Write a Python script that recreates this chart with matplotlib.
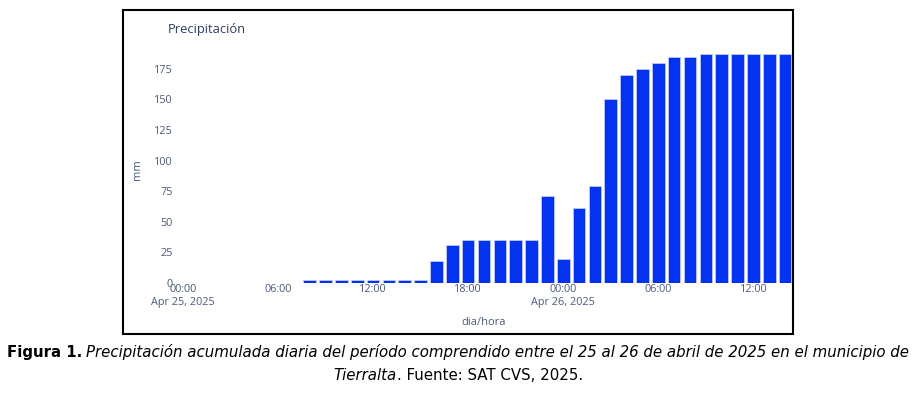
import matplotlib
matplotlib.use("Agg")
import matplotlib.pyplot as plt
import matplotlib.dates as mdates
from matplotlib.patches import Rectangle
import pandas as pd

# hourly accumulated precipitation, 25-26 Apr 2025
horas = pd.date_range("2025-04-25 00:00", "2025-04-26 14:00", freq="h")
precip_mm = [
    0, 0, 0, 0, 0, 0, 0, 0,                      # 00-07 Apr 25
    2.5, 2.5, 2.5, 2.5, 2.5, 2.5, 2.5, 2.5,      # 08-15
    18, 31, 35.5, 35.5, 35.5, 35.5, 35.5, 71,    # 16-23
    20, 61, 79, 150, 170, 175, 180, 185,         # 00-07 Apr 26
    185, 187, 187, 187, 187, 187, 187,           # 08-14
]
y_ticks = [0, 25, 50, 75, 100, 125, 150, 175]

TXT = "#4a5a78"

fig = plt.figure(figsize=(9.16, 3.93), dpi=100)
W, H = 916, 393
ax = fig.add_axes([175 / W, 1 - 283 / H, (793 - 175) / W, (283 - 42) / H])

ax.bar(horas, precip_mm, width=0.8 / 24, color="#0433f0",
       edgecolor="#c8d2ff", linewidth=0.5)

ax.set_xlim(mdates.date2num(horas[0] - pd.Timedelta(minutes=30)),
            mdates.date2num(horas[-1] + pd.Timedelta(minutes=30)))
ax.set_ylim(0, 197)
ax.set_yticks(y_ticks)


def fmt_hora(x, pos):
    d = mdates.num2date(x)
    if d.hour == 0:
        return d.strftime("%H:%M\n%b %d, %Y")
    return d.strftime("%H:%M")


ax.xaxis.set_major_locator(mdates.HourLocator(byhour=[0, 6, 12, 18]))
ax.xaxis.set_major_formatter(plt.FuncFormatter(fmt_hora))
ax.tick_params(axis="both", length=0, labelsize=7.8, labelcolor=TXT,
               labelfontfamily="Open Sans")
ax.tick_params(axis="x", pad=1)
ax.tick_params(axis="y", pad=1.5)
for s in ax.spines.values():
    s.set_visible(False)

ax.set_xlabel("dia/hora", fontsize=8, color=TXT, family="Open Sans")
ax.xaxis.set_label_coords(0.5, -0.14)
ax.set_ylabel("mm", fontsize=8, color=TXT, family="Open Sans")
ax.yaxis.set_label_coords(-0.052, 0.47)

fig.text(168 / W, 1 - 29 / H, "Precipitación", fontsize=9.3, color="#2a3f5f",
         family="Open Sans", va="center", ha="left")

# black frame around the chart
fig.patches.append(Rectangle((123 / W, 1 - 334 / H), (793 - 123) / W, (334 - 10) / H,
                             transform=fig.transFigure, fill=False,
                             edgecolor="black", linewidth=1.5, zorder=10))


# caption with mixed styles, centred line by line
def caption_line(pieces, y, size, fit=None):
    r = fig.canvas.get_renderer()
    txts = [fig.text(0, y, s, fontsize=size, va="center", ha="left",
                     family="DejaVu Sans", **kw) for s, kw, g in pieces]
    widths = [t.get_window_extent(r).width for t in txts]
    gaps = [g * size for s, kw, g in pieces]
    if fit:
        size = size * (fit - sum(gaps)) / sum(widths)
        for t in txts:
            t.set_fontsize(size)
        widths = [t.get_window_extent(r).width for t in txts]
        gaps = [g * size for s, kw, g in pieces]
    total = sum(widths) + sum(gaps[1:])
    x = (W - total) / 2
    for t, w, g in zip(txts, widths, gaps):
        x += g
        t.set_x(x / W)
        x += w
    return size


sz = caption_line([("Figura 1.", {"weight": "bold"}, 0),
                   ("Precipitación acumulada diaria del período comprendido entre el 25 al 26 "
                    "de abril de 2025 en el municipio de", {"style": "italic"}, 0.3)],
                  1 - 352 / H, 10, fit=903)
caption_line([("Tierralta", {"style": "italic"}, 0),
              (". Fuente: SAT CVS, 2025.", {}, 0.05)],
             1 - 375 / H, sz)

fig.savefig("out.png", dpi=100)
